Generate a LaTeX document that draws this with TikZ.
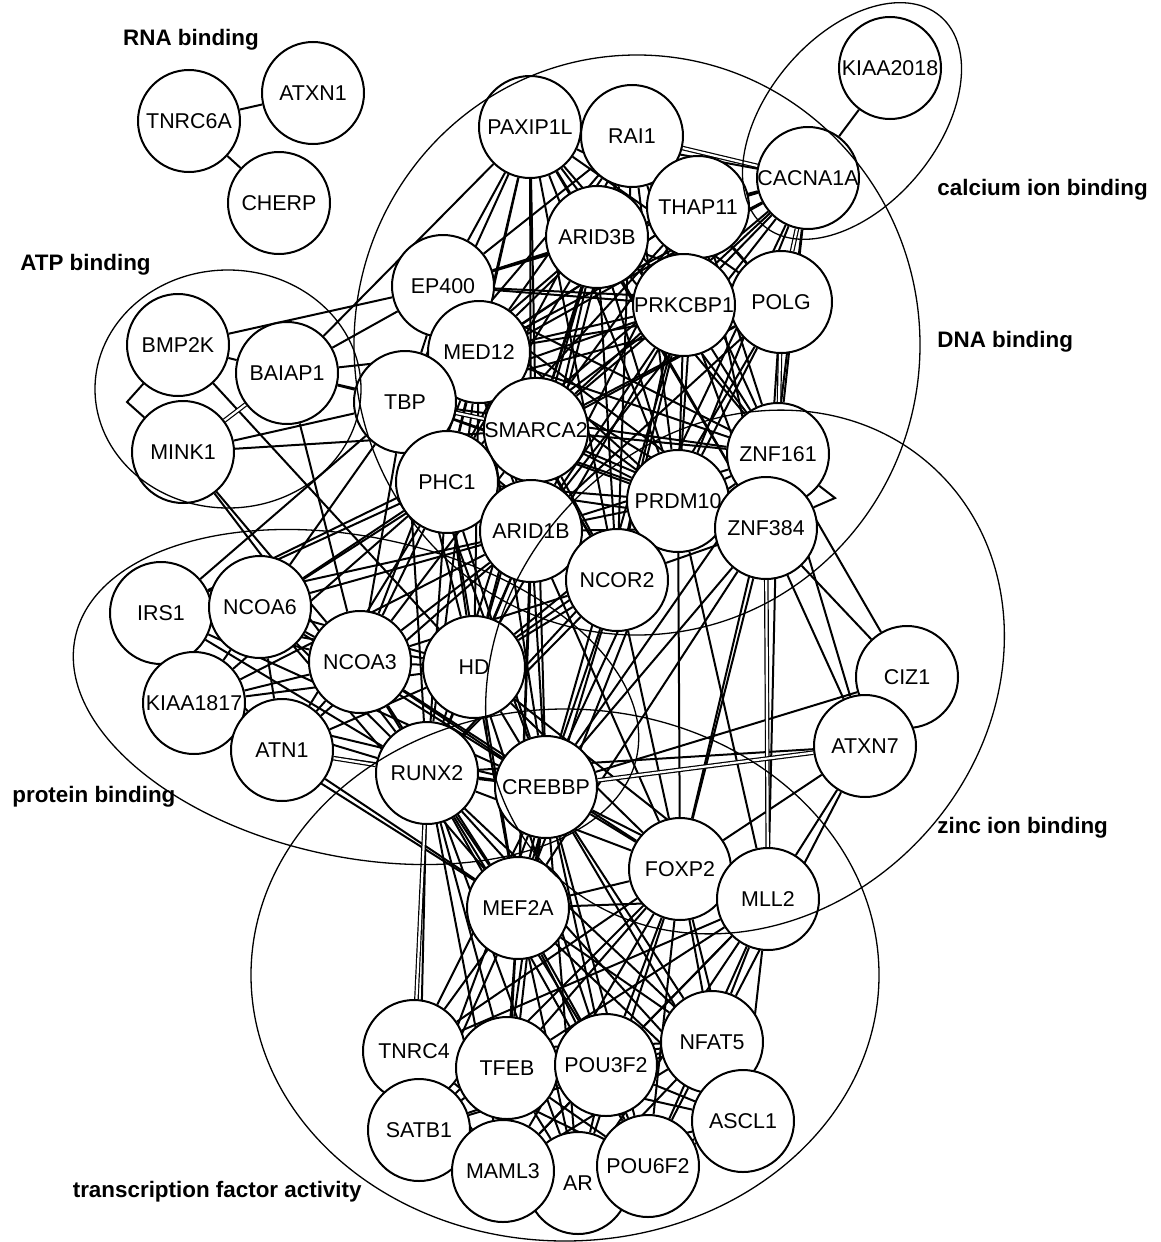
\documentclass[tikz,border=0pt]{standalone}
\usepackage{fontspec}
\setmainfont{Liberation Sans}
\pgfdeclarelayer{edges}
\pgfdeclarelayer{front}
\pgfsetlayers{edges,main,front}
\begin{document}
\begin{tikzpicture}[x=0.5pt,y=-0.5pt,
  gene/.style={circle, draw, line width=1pt, fill=white, minimum size=51pt, inner sep=0pt, font=\fontsize{10.7}{12}\selectfont},
  lnk/.style={line width=1pt},
  dlnk/.style={double, double distance=1.1pt, line width=0.6pt},
  grp/.style={line width=0.65pt},
  glabel/.style={font=\bfseries\fontsize{11.2}{13}\selectfont, inner sep=0pt}]
\useasboundingbox (0,0) rectangle (1161,1242);
% nodes
\node[gene] (tn6) at (189,121) {TNRC6A};
\node[gene] (atx1) at (313,93) {ATXN1};
\node[gene] (cherp) at (279,203) {CHERP};
\node[gene] (k2018) at (890,68) {KIAA2018};
\node[gene] (pax) at (530,127) {PAXIP1L};
\node[gene] (rai) at (632,136) {RAI1};
\node[gene] (cac) at (808,178) {CACNA1A};
\node[gene] (thap) at (698,207) {THAP11};
\node[gene] (a3b) at (597,237) {ARID3B};
\node[gene] (ep) at (443,286) {EP400};
\node[gene] (polg) at (781,302) {POLG};
\node[gene] (prk) at (684,305) {PRKCBP1};
\node[gene] (bmp) at (178,345) {BMP2K};
\node[gene] (bai) at (287,373) {BAIAP1};
\node[gene] (med) at (479,352) {MED12};
\node[gene] (tbp) at (405,402) {TBP};
\node[gene] (mink) at (183,452) {MINK1};
\node[gene] (z161) at (778,454) {ZNF161};
\node[gene] (sma) at (536,430) {SMARCA2};
\node[gene] (phc) at (447,482) {PHC1};
\node[gene] (prdm) at (678,501) {PRDM10};
\node[gene] (a1b) at (531,531) {ARID1B};
\node[gene] (z384) at (766,528) {ZNF384};
\node[gene] (ncor) at (617,580) {NCOR2};
\node[gene] (irs) at (161,613) {IRS1};
\node[gene] (nc6) at (260,607) {NCOA6};
\node[gene] (nc3) at (360,662) {NCOA3};
\node[gene] (hd) at (474,667) {HD};
\node[gene] (ciz) at (907,677) {CIZ1};
\node[gene] (k1817) at (194,703) {KIAA1817};
\node[gene] (atn) at (282,750) {ATN1};
\node[gene] (atx7) at (865,746) {ATXN7};
\node[gene] (runx) at (427,773) {RUNX2};
\node[gene] (creb) at (546,787) {CREBBP};
\node[gene] (foxp) at (680,869) {FOXP2};
\node[gene] (mef) at (518,908) {MEF2A};
\node[gene] (mll) at (768,899) {MLL2};
\node[gene] (tn4) at (414,1051) {TNRC4};
\node[gene] (nfat) at (712,1042) {NFAT5};
\node[gene] (ar) at (578,1183) {AR};
\node[gene] (tfeb) at (507,1068) {TFEB};
\node[gene] (p3f2) at (606,1065) {POU3F2};
\node[gene] (satb) at (419,1130) {SATB1};
\node[gene] (ascl) at (743,1121) {ASCL1};
\node[gene] (maml) at (503,1171) {MAML3};
\node[gene] (p6f2) at (648,1166) {POU6F2};
% connectors
\coordinate (kb1) at (127,402);
\coordinate (kb2) at (835,498);
\begin{pgfonlayer}{edges}
\foreach \a/\b in {tn6/atx1, tn6/cherp, k2018/cac,
 pax/rai, pax/a3b, pax/ep, pax/med, pax/tbp, pax/sma, pax/prk, pax/phc, pax/a1b, pax/prdm, pax/z161, pax/thap, pax/ncor, pax/bai, pax/polg, pax/z384,
 rai/thap, rai/a3b, rai/prk, rai/sma, rai/med, rai/z161, rai/prdm, rai/polg, rai/ep, rai/phc, rai/a1b, rai/ncor, rai/tbp,
 thap/cac, thap/a3b, thap/prk, thap/polg, thap/sma, thap/med, thap/z161, thap/prdm, thap/z384, thap/a1b, thap/ep, thap/tbp, thap/phc, thap/ncor,
 cac/prk, cac/z161, cac/sma, cac/prdm, cac/z384, cac/a3b, cac/med, cac/pax, cac/ep, cac/tbp, cac/phc, cac/a1b, cac/ncor,
 a3b/ep, a3b/med, a3b/prk, a3b/sma, a3b/tbp, a3b/phc, a3b/prdm, a3b/z161, a3b/a1b, a3b/ncor, a3b/polg, a3b/z384, a3b/hd,
 ep/med, ep/tbp, ep/sma, ep/prk, ep/phc, ep/a1b, ep/prdm, ep/z161, ep/z384, ep/ncor, ep/polg,
 prk/polg, prk/med, prk/sma, prk/tbp, prk/phc, prk/prdm, prk/z161, prk/z384, prk/a1b, prk/ncor, prk/hd, prk/creb,
 polg/sma, polg/prdm, polg/z384, polg/med, polg/a1b, polg/tbp, polg/phc, polg/ncor,
 med/tbp, med/sma, med/phc, med/prdm, med/a1b, med/z161, med/z384, med/ncor, med/nc3, med/hd, med/creb, med/runx,
 tbp/sma, tbp/phc, tbp/a1b, tbp/prdm, tbp/z161, tbp/hd, tbp/nc3, tbp/nc6, tbp/runx, tbp/creb, tbp/irs, tbp/z384, tbp/ncor,
 sma/phc, sma/prdm, sma/a1b, sma/z161, sma/z384, sma/ncor, sma/hd, sma/creb, sma/nc3, sma/nc6, sma/runx, sma/mef,
 z161/prdm, z161/z384, z161/ncor, z161/a1b, z161/atx7, z161/ciz, z161/creb, z161/hd, z161/foxp, z161/mll,
 phc/a1b, phc/prdm, phc/ncor, phc/hd, phc/nc3, phc/nc6, phc/runx, phc/creb, phc/irs, phc/k1817, phc/atn, phc/z384, phc/mef,
 prdm/z384, prdm/a1b, prdm/ncor, prdm/foxp, prdm/mll, prdm/creb, prdm/hd, prdm/runx, prdm/mef,
 a1b/ncor, a1b/z384, a1b/hd, a1b/creb, a1b/nc3, a1b/runx, a1b/nc6, a1b/k1817, a1b/atn, a1b/mef, a1b/foxp,
 z384/ncor, z384/ciz, z384/atx7, z384/foxp, z384/creb, z384/mef,
 ncor/creb, ncor/mef, ncor/hd, ncor/runx, ncor/foxp, ncor/nc3,
 bmp/bai, bmp/ep, bmp/hd, bai/ep, bai/med, bai/tbp, bai/sma, bai/nc3, mink/tbp, mink/sma, mink/nc3, mink/runx,
 irs/nc6, irs/k1817, irs/nc3, irs/hd, irs/a1b, irs/sma, irs/atn, irs/runx, irs/creb,
 nc6/k1817, nc6/nc3, nc6/hd, nc6/atn, nc6/runx, nc6/creb, nc6/mef,
 k1817/nc3, k1817/atn, k1817/hd, k1817/runx, k1817/creb, k1817/mef,
 atn/nc3, atn/runx, atn/creb, atn/hd, atn/mef,
 nc3/hd, nc3/runx, nc3/creb, nc3/mef, nc3/foxp,
 hd/runx, hd/creb, hd/mef, hd/foxp, hd/mll, hd/p3f2,
 runx/creb, runx/mef, runx/tfeb, runx/p3f2, runx/maml, runx/foxp, runx/nfat, runx/satb, runx/atx7, runx/ar, runx/p6f2, runx/ascl,
 creb/mef, creb/foxp, creb/mll, creb/atx7, creb/tfeb, creb/p3f2, creb/nfat, creb/tn4, creb/ar, creb/ascl, creb/maml, creb/p6f2, creb/ciz, creb/satb,
 atx7/mll, atx7/foxp, atx7/ciz, atx7/nfat,
 foxp/mll, foxp/mef, foxp/tn4, foxp/tfeb, foxp/p3f2, foxp/nfat, foxp/satb, foxp/ascl, foxp/maml, foxp/ar, foxp/p6f2,
 mll/mef, mll/tfeb, mll/p3f2, mll/nfat, mll/ascl, mll/p6f2, mll/tn4, mll/ar, mll/maml,
 mef/tn4, mef/tfeb, mef/p3f2, mef/nfat, mef/satb, mef/maml, mef/ar, mef/p6f2, mef/ascl,
 tn4/tfeb, tn4/satb, tn4/p3f2, tn4/maml, tn4/nfat, tn4/ar, tn4/p6f2,
 tfeb/p3f2, tfeb/satb, tfeb/maml, tfeb/ar, tfeb/nfat, tfeb/p6f2, tfeb/ascl,
 p3f2/nfat, p3f2/maml, p3f2/ar, p3f2/p6f2, p3f2/ascl, p3f2/satb,
 nfat/ascl, nfat/p6f2, nfat/ar, nfat/maml, nfat/satb,
 satb/maml, satb/ar, satb/p6f2, maml/ar, maml/p6f2, maml/ascl, ar/p6f2, ar/ascl, p6f2/ascl}
 \draw[lnk] (\a) -- (\b);
\foreach \a/\b in {rai/cac, cac/polg, polg/z161, runx/tn4, z384/mll, bai/mink, creb/atx7, tbp/sma, atn/runx}
 \draw[dlnk] (\a) -- (\b);
\draw[lnk] (bmp) -- (kb1) -- (mink);
\draw[lnk] (z161) -- (kb2) -- (z384);
\end{pgfonlayer}
% groups
\begin{pgfonlayer}{front}
\draw[grp] (637,345) ellipse [x radius=283, y radius=290];
\draw[grp, rotate around={50:(852,121)}] (852,121) ellipse [x radius=137, y radius=85];
\draw[grp] (228,389) ellipse [x radius=133, y radius=119];
\draw[grp, rotate around={-12:(356,697)}] (356,697) ellipse [x radius=287, y radius=160];
\draw[grp, rotate around={47:(745,672)}] (745,672) ellipse [x radius=278, y radius=242];
\draw[grp] (565,975) ellipse [x radius=314, y radius=266];
\end{pgfonlayer}
% labels
\node[glabel] (lrna) at (191,40) {RNA binding};
\node[glabel, anchor=west] (latp) at (20,265) {ATP binding};
\node[glabel, anchor=west] (lcal) at (937,190) {calcium ion binding};
\node[glabel, anchor=west] (ldna) at (937,342) {DNA binding};
\node[glabel, anchor=west] (lpro) at (12,797) {protein binding};
\node[glabel, anchor=west] (lzn) at (937,828) {zinc ion binding};
\node[glabel, anchor=east] (ltf) at (362,1192) {transcription factor activity};
\end{tikzpicture}
\end{document}
